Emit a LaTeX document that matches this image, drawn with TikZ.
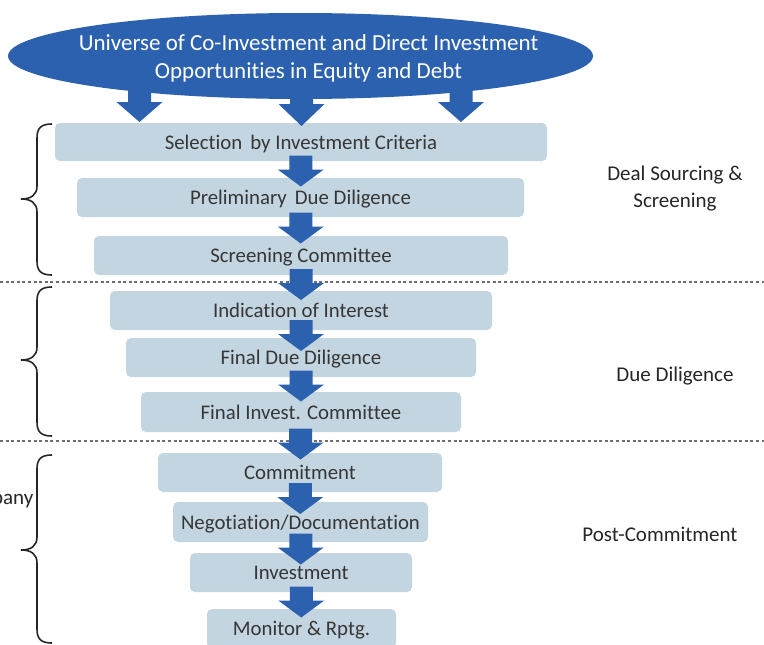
\documentclass[tikz,border=0pt]{standalone}
\usepackage{fontspec}
\setmainfont[Ligatures=NoCommon]{Carlito}
\usetikzlibrary{calc,shapes.geometric}
\definecolor{eblue}{HTML}{2B61AE}
\definecolor{boxfill}{HTML}{C3D5E0}
\definecolor{txt}{HTML}{363636}
\definecolor{dotgray}{HTML}{6E6E6E}
\definecolor{bracecol}{HTML}{262626}
\newcommand\blockdown[3]{%
  \fill[eblue] let \p1=#1 in
    (\x1,\y1) -- (\x1-23pt,\y1+#2) -- (\x1-11.5pt,\y1+#2) -- (\x1-11.5pt,\y1+#2+#3)
    -- (\x1+11.5pt,\y1+#2+#3) -- (\x1+11.5pt,\y1+#2) -- (\x1+23pt,\y1+#2) -- cycle;}
\newcommand\flowarrow[2]{\blockdown{($(#1.south)!0.5!(#2.north)+(0,17)$)}{17pt}{14pt}}
\begin{document}
\begin{tikzpicture}[x=1pt,y=-1pt,
  stage/.style={fill=boxfill, rounded corners=5pt, text=txt,
    font=\fontsize{20.8}{24}\selectfont, inner sep=0pt, text height=14pt, text depth=0pt},
  sidelabel/.style={text=bracecol, font=\fontsize{21}{27}\selectfont, align=center, inner sep=0pt},
  dotline/.style={dotgray, line width=2.6pt, dash pattern=on 3pt off 2.6pt},
  bracestyle/.style={bracecol, line width=1.6pt}]
\useasboundingbox (0,0) rectangle (764,645);

% top ellipse
\node[ellipse, fill=eblue, minimum width=585pt, minimum height=86pt, inner sep=0pt] (univ) at (300.5,56) {};
\node[text=white, font=\fontsize{23}{28}\selectfont, align=center, inner sep=0pt] (univtext) at (308.5,58)
  {Universe of Co-Investment and Direct Investment\\Opportunities in Equity and Debt};

% stages
\node[stage, minimum width=492pt, minimum height=38pt] (s1) at (301,142) {Selection\, by Investment Criteria};
\node[stage, minimum width=447pt, minimum height=39pt] (s2) at (300.5,197.5) {Preliminary\, Due Diligence};
\node[stage, minimum width=414pt, minimum height=39pt] (s3) at (301,255.5) {Screening Committee};
\node[stage, minimum width=382pt, minimum height=39pt] (s4) at (301,310.5) {Indication of Interest};
\node[stage, minimum width=350pt, minimum height=39pt] (s5) at (301,357.5) {Final Due Diligence};
\node[stage, minimum width=320pt, minimum height=40pt] (s6) at (301,412) {Final Invest. Committee};
\node[stage, minimum width=284pt, minimum height=39pt] (s7) at (300,472.5) {Commitment};
\node[stage, minimum width=255pt, minimum height=40pt] (s8) at (300.5,522) {Negotiation/Documentation};
\node[stage, minimum width=222pt, minimum height=39pt] (s9) at (301,572.5) {Investment};
\node[stage, minimum width=189pt, minimum height=39pt] (s10) at (301.5,628.5) {Monitor \& Rptg.};

% dotted separators
\coordinate (d1l) at (0,282); \coordinate (d1r) at (764,282);
\coordinate (d2l) at (0,441); \coordinate (d2r) at (764,441);
\draw[dotline] (d1l) -- (d1r);
\draw[dotline] (d2l) -- (d2r);

% arrows from the ellipse
\coordinate (tipL) at (139.5,122);
\coordinate (tipM) at (301.5,126);
\coordinate (tipR) at (461,122);
\blockdown{(tipL)}{20pt}{12pt}
\blockdown{(tipM)}{22pt}{14pt}
\blockdown{(tipR)}{20pt}{12pt}

% flow arrows
\flowarrow{s1}{s2}
\flowarrow{s2}{s3}
\flowarrow{s3}{s4}
\flowarrow{s4}{s5}
\flowarrow{s5}{s6}
\flowarrow{s6}{s7}
\flowarrow{s7}{s8}
\flowarrow{s8}{s9}
\flowarrow{s9}{s10}

% braces
\draw[bracestyle] (52,124) .. controls (41,124) and (37,128) .. (37,138) -- (37,186)
  .. controls (37,195) and (31,199) .. (21,199) .. controls (31,199) and (37,203) .. (37,212)
  -- (37,261) .. controls (37,271) and (41,275) .. (52,275);
\draw[bracestyle] (52,287) .. controls (41,287) and (37,291) .. (37,301) -- (37,347)
  .. controls (37,356) and (31,360) .. (21,360) .. controls (31,360) and (37,364) .. (37,373)
  -- (37,422) .. controls (37,432) and (41,436) .. (52,436);
\draw[bracestyle] (52,455) .. controls (41,455) and (37,459) .. (37,469) -- (37,537)
  .. controls (37,546) and (31,550) .. (21,550) .. controls (31,550) and (37,554) .. (37,563)
  -- (37,629) .. controls (37,639) and (41,643) .. (52,643);

% side labels
\node[sidelabel] (lab1) at (675,188.5) {Deal Sourcing \&\\Screening};
\node[sidelabel] (lab2) at (675,376) {Due Diligence};
\node[sidelabel] (lab3) at (660,534) {Post-Commitment};
\node[sidelabel, anchor=east] (lab4) at (33.5,501) {pany};
\end{tikzpicture}
\end{document}
